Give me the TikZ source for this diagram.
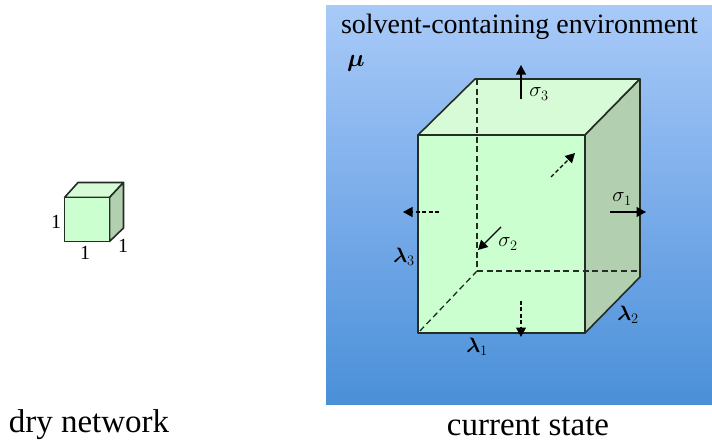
\documentclass[tikz,border=0pt]{standalone}
\usepackage{amsmath}
\usepackage{fontspec}
\setmainfont{Liberation Serif}
\usetikzlibrary{arrows.meta,positioning}
\definecolor{frontface}{RGB}{204,255,208}
\definecolor{topface}{RGB}{214,251,214}
\definecolor{sideface}{RGB}{178,207,175}
\definecolor{edge}{RGB}{35,45,35}
\definecolor{skyhi}{RGB}{168,202,248}
\definecolor{skymid}{RGB}{122,172,234}
\definecolor{skylo}{RGB}{74,144,216}
\tikzset{
  x=1pt,y=-1pt,
  >={Triangle[length=9.5pt,width=10pt]},
  cubeedge/.style={draw=edge,line width=1.6pt,line join=round},
  hidden/.style={draw=edge,line width=1.3pt,dash pattern=on 6pt off 3.6pt},
  force/.style={->,line width=1.2pt,draw=black},
  forcedash/.style={->,line width=1.2pt,draw=black,dash pattern=on 4pt off 2.4pt},
  caption/.style={font=\fontsize{28}{30}\selectfont,inner sep=0pt},
  wide caption/.style={font=\fontsize{33}{35}\selectfont,inner sep=0pt},
  sym/.style={font=\fontsize{21}{23}\selectfont,inner sep=0pt},
  unit/.style={font=\fontsize{20}{22}\selectfont,inner sep=0pt},
}
\begin{document}
\begin{tikzpicture}
    \useasboundingbox (0,0) rectangle (712,442);
    % environment
    \fill[top color=skyhi,bottom color=skymid,draw=none] (326,5) rectangle (712,205);
    \fill[top color=skymid,bottom color=skylo,draw=none] (326,204.5) rectangle (712,404);
    \node[caption] (env) at (519.5,27) {solvent-containing environment};
    \node[sym,font=\fontsize{28}{30}\selectfont] (mu) at (356,63) {$\boldsymbol{\mu}$};
    \node[wide caption] (dry) at (89,425) {dry network};
    \node[wide caption] (cur) at (528,426) {current state};
    % dry cube
    \coordinate (a1) at (64.5,197.5);
    \coordinate (a2) at (109.5,197.5);
    \coordinate (a3) at (109.5,241.5);
    \coordinate (a4) at (64.5,241.5);
    \coordinate (a5) at (78,182.5);
    \coordinate (a6) at (123.5,182.5);
    \coordinate (a7) at (123.5,228);
    \filldraw[cubeedge,fill=topface] (a1) -- (a5) -- (a6) -- (a2) -- cycle;
    \filldraw[cubeedge,fill=sideface] (a2) -- (a6) -- (a7) -- (a3) -- cycle;
    \filldraw[cubeedge,fill=frontface] (a1) -- (a2) -- (a3) -- (a4) -- cycle;
    \node[unit] (u1) at (56,222) {1};
    \node[unit] (u2) at (85,253) {1};
    \node[unit] (u3) at (123,246) {1};
    % swollen cube
    \coordinate (b1) at (418,135);
    \coordinate (b2) at (585,135);
    \coordinate (b3) at (585,333);
    \coordinate (b4) at (418,333);
    \coordinate (b5) at (475,79);
    \coordinate (b6) at (640,79);
    \coordinate (b7) at (640,277);
    \coordinate (b8) at (477,271);
    \coordinate (b9) at (477,79);
    \coordinate (b10) at (640,271);
    \filldraw[cubeedge,fill=topface] (b1) -- (b5) -- (b6) -- (b2) -- cycle;
    \filldraw[cubeedge,fill=sideface] (b2) -- (b6) -- (b7) -- (b3) -- cycle;
    \filldraw[cubeedge,fill=frontface] (b1) -- (b2) -- (b3) -- (b4) -- cycle;
    \draw[hidden] (b9) -- (b8);
    \draw[hidden] (b8) -- (b10);
    \draw[hidden] (b8) -- (b4);
    % stresses
    \coordinate (s3a) at (521,99);  \coordinate (s3b) at (521,65);
    \coordinate (s2a) at (501,227); \coordinate (s2b) at (478,250);
    \coordinate (s1a) at (610,212); \coordinate (s1b) at (646,212);
    \coordinate (d1a) at (551,177); \coordinate (d1b) at (575,153);
    \coordinate (d2a) at (439,212); \coordinate (d2b) at (403,212);
    \coordinate (d3a) at (521,301); \coordinate (d3b) at (521,337);
    \draw[force] (s3a) -- (s3b);
    \draw[force] (s2a) -- (s2b);
    \draw[force] (s1a) -- (s1b);
    \draw[forcedash] (d1a) -- (d1b);
    \draw[forcedash] (d2a) -- (d2b);
    \draw[forcedash] (d3a) -- (d3b);
    \node[sym] (sig3) at (539,94) {$\sigma_3$};
    \node[sym] (sig1) at (622,199) {$\sigma_1$};
    \node[sym] (sig2) at (508,244) {$\sigma_2$};
    \node[sym] (lam3) at (404,257) {$\boldsymbol{\lambda}_3$};
    \node[sym] (lam2) at (628,315) {$\boldsymbol{\lambda}_2$};
    \node[sym] (lam1) at (477,347) {$\boldsymbol{\lambda}_1$};
\end{tikzpicture}
\end{document}
